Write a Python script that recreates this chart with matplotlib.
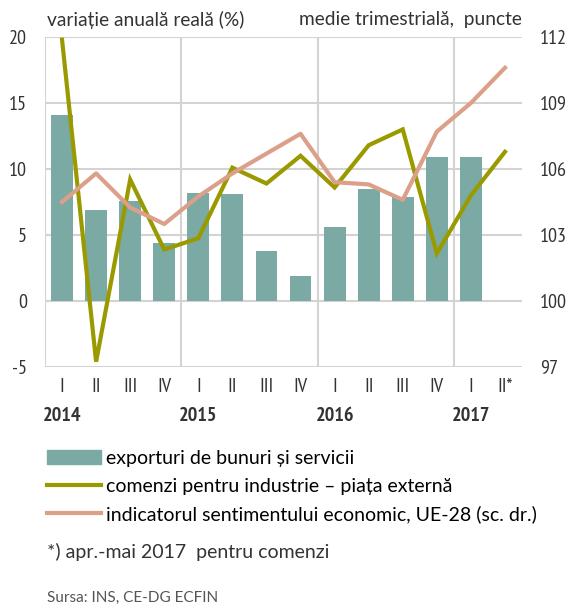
import matplotlib
matplotlib.use("Agg")
import matplotlib.pyplot as plt
from matplotlib.patches import Patch
from matplotlib.lines import Line2D

quarters = ["I", "II", "III", "IV", "I", "II", "III", "IV", "I", "II", "III", "IV", "I", "II*"]
years = ["2014", "2015", "2016", "2017"]
exports = [14.1, 6.9, 7.6, 4.4, 8.2, 8.1, 3.8, 1.9, 5.6, 8.5, 7.9, 10.9, 10.9]
orders = [19.8, -4.6, 9.2, 3.9, 4.75, 10.1, 8.9, 11.0, 8.6, 11.8, 13.0, 3.6, 8.0, 11.3]
esi = [104.5, 105.8, 104.25, 103.5, 104.75, 105.8, 106.7, 107.6, 105.4, 105.3, 104.6, 107.7, 109.0, 110.6]

left_ticks = [-5, 0, 5, 10, 15, 20]
right_ticks = [97, 100, 103, 106, 109, 112]

C_BAR = "#7aaaa3"
C_ORD = "#9a9a00"
C_ESI = "#dca08a"
C_GRID = "#d3d3d3"
C_TXT = "#333333"

W, H = 569, 606
fig = plt.figure(figsize=(W / 100, H / 100), dpi=100)
x0, x1, y0, y1 = 45, 522, 37, 367
ax = fig.add_axes([x0 / W, 1 - y1 / H, (x1 - x0) / W, (y1 - y0) / H])
ax2 = ax.twinx()

tick_font = ["PT Sans Narrow", "Roboto Condensed", "DejaVu Sans"]
text_font = ["Lato", "DejaVu Sans"]

xs = list(range(len(quarters)))
ax.bar(xs[:len(exports)], exports, width=0.64, color=C_BAR, zorder=2)
ax.plot(xs, orders, color=C_ORD, lw=3.0, zorder=4, solid_joinstyle="miter")
ax2.plot(xs, esi, color=C_ESI, lw=3.0, zorder=3)

ax.set_xlim(-0.5, len(quarters) - 0.5)
ax.set_ylim(-5, 20)
ax2.set_ylim(97, 112)
ax.set_yticks(left_ticks)
ax2.set_yticks(right_ticks)
ax.yaxis.grid(True, color=C_GRID, lw=1.5, zorder=0)
ax.set_axisbelow(True)
for xv in [-0.5, 3.5, 7.5, 11.5]:
    ax.axvline(xv, color=C_GRID, lw=1.5, zorder=0)

for a in (ax, ax2):
    for s in a.spines.values():
        s.set_visible(False)
    a.tick_params(length=0)

ax.set_yticklabels([str(v) for v in left_ticks], fontsize=14.5, family=tick_font, color=C_TXT)
ax2.set_yticklabels([str(v) for v in right_ticks], fontsize=14.5, family=tick_font, color=C_TXT)
ax.tick_params(axis="y", pad=13)
ax2.tick_params(axis="y", pad=13)

ax.set_xticks(xs)
ax.set_xticklabels(quarters, fontsize=14.5, family=tick_font, color=C_TXT)
ax.tick_params(axis="x", pad=8)
for i, yr in enumerate(years):
    ax.text(i * 4, -0.122, yr, transform=ax.get_xaxis_transform(), ha="center", va="top",
            fontsize=14.5, family=tick_font, color=C_TXT, fontweight="bold")

fig.text(47 / W, 1 - 20 / H, "variație anuală reală (%)", fontsize=13.8, family=text_font,
         color=C_TXT, va="center", ha="left")
fig.text(522 / W, 1 - 20 / H, "medie trimestrială,  puncte", fontsize=13.8, family=text_font,
         color=C_TXT, va="center", ha="right")

handles = [Patch(color=C_BAR),
           Line2D([0], [0], color=C_ORD, lw=3),
           Line2D([0], [0], color=C_ESI, lw=3)]
labels = ["exporturi de bunuri și servicii",
          "comenzi pentru industrie – piața externă",
          "indicatorul sentimentului economic, UE-28 (sc. dr.)"]
fig.legend(handles, labels, loc="upper left", bbox_to_anchor=(47 / W, 1 - 450 / H),
           frameon=False, prop={"family": text_font, "size": 14},
           handlelength=2.8, handleheight=0.75, handletextpad=0.25, labelspacing=0.55,
           borderaxespad=0, borderpad=0)

fig.text(47 / W, 1 - 552 / H, "*) apr.-mai 2017  pentru comenzi", fontsize=14, family=text_font,
         color=C_TXT, va="center", ha="left")
fig.text(47 / W, 1 - 598 / H, "Sursa: INS, CE-DG ECFIN", fontsize=11, family=text_font,
         color="#555555", va="center", ha="left")

fig.savefig("out.png", dpi=100)
